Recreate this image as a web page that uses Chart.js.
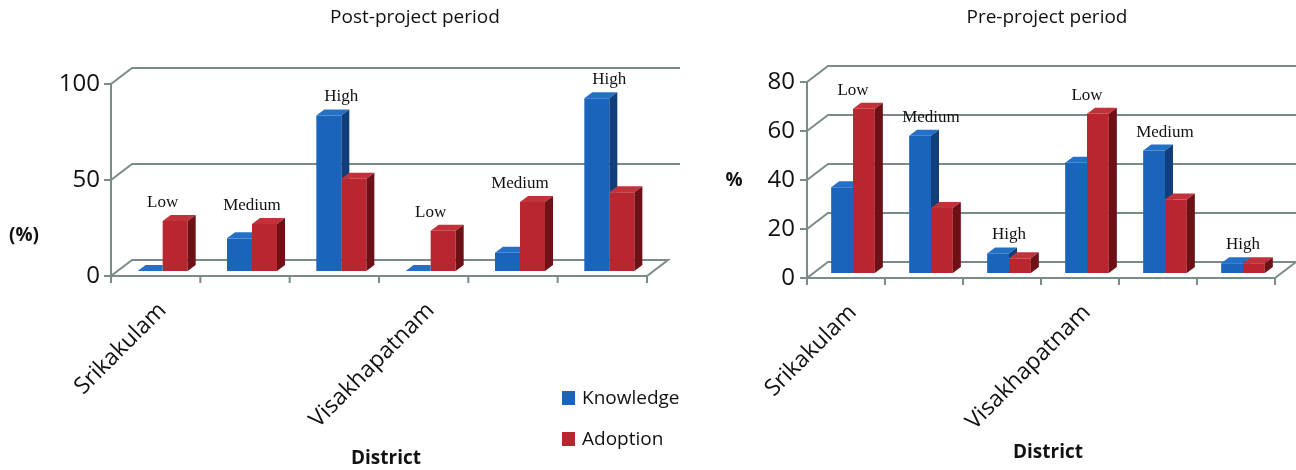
<!DOCTYPE html>
<html>
<head>
<meta charset="utf-8">
<script src="https://cdn.jsdelivr.net/npm/chart.js@4.4.1/dist/chart.umd.min.js"></script>
<style>
  html, body { margin: 0; padding: 0; background: #fff; width: 1296px; height: 470px; overflow: hidden; }
  canvas { position: absolute; top: 0; }
  #post { left: 0; }
  #pre { left: 690px; }
</style>
</head>
<body>
<canvas id="post" width="690" height="470"></canvas>
<canvas id="pre" width="606" height="470"></canvas>
<script>
// ---- data ----
const districts = ['Srikakulam', 'Visakhapatnam'];
const levels = ['Low', 'Medium', 'High'];
const seriesNames = ['Knowledge', 'Adoption'];

// order: Srikakulam Low, Medium, High, Visakhapatnam Low, Medium, High
const postKnowledge = [0, 17, 81, 0, 9.5, 90];
const postAdoption = [26, 24.5, 48, 21, 36, 41];
const preKnowledge = [35, 56, 8, 45, 50, 4];
const preAdoption = [67, 26.5, 6, 65, 30, 4];

const postMax = 100, postStep = 50;
const preMax = 80, preStep = 20;

// ---- styling ----
const BLUE = '#1b64bc', BLUE_TOP = '#2470c6', BLUE_SIDE = '#123f7c';
const RED = '#b8262f', RED_TOP = '#c1323a', RED_SIDE = '#6e1117';
const GRID = '#7b8b8a';
const SANS = '"Open Sans", "Liberation Sans", sans-serif';
const SERIF = '"Liberation Serif", "DejaVu Serif", serif';

// one category per district/level pair; district name only under its first level
const categories = [];
const levelOfCategory = [];
districts.forEach(d => levels.forEach((l, j) => {
  categories.push(j === 0 ? d : '');
  levelOfCategory.push(l);
}));

function faces(ctx, el, top, side, dx, dy) {
  const p = el.getProps(['x', 'y', 'base', 'width'], true);
  const l = p.x - p.width / 2, r = p.x + p.width / 2;
  ctx.fillStyle = top;
  ctx.beginPath();
  ctx.moveTo(l, p.y); ctx.lineTo(l + dx, p.y - dy); ctx.lineTo(r + dx, p.y - dy); ctx.lineTo(r, p.y);
  ctx.closePath(); ctx.fill();
  ctx.fillStyle = side;
  ctx.beginPath();
  ctx.moveTo(r, p.y); ctx.lineTo(r + dx, p.y - dy); ctx.lineTo(r + dx, p.base - dy); ctx.lineTo(r, p.base);
  ctx.closePath(); ctx.fill();
}

// draws the floor / back-wall box, the bar depth faces and the annotations
const depthPlugin = {
  id: 'depth',
  beforeDatasetsDraw(chart, args, o) {
    const { ctx, chartArea: a, scales: { x, y } } = chart;
    const f = o.front, b = o.back;
    ctx.save();
    ctx.strokeStyle = GRID;
    ctx.lineWidth = 2;
    y.ticks.forEach(t => {
      const py = y.getPixelForValue(t.value);
      ctx.beginPath();
      if (t.value === y.min) {
        ctx.moveTo(a.left + f.dx, py + f.dy);
        ctx.lineTo(a.right + f.dx, py + f.dy);
        ctx.lineTo(a.right + b.dx, py + b.dy);
        ctx.lineTo(a.left + b.dx, py + b.dy);
        ctx.closePath();
      } else {
        ctx.moveTo(a.left + f.dx, py + f.dy);
        ctx.lineTo(a.left + b.dx, py + b.dy);
        ctx.lineTo(a.right + b.dx + o.extend, py + b.dy);
      }
      ctx.stroke();
      ctx.beginPath();
      ctx.moveTo(a.left + f.dx - 7, py + f.dy);
      ctx.lineTo(a.left + f.dx, py + f.dy);
      ctx.stroke();
    });
    // front value axis
    ctx.beginPath();
    ctx.moveTo(a.left + f.dx, y.getPixelForValue(y.min) + f.dy + 7);
    ctx.lineTo(a.left + f.dx, y.getPixelForValue(y.max) + f.dy);
    ctx.stroke();
    // category boundary ticks on the front edge
    const y0 = y.getPixelForValue(y.min) + f.dy;
    for (let i = 0; i <= x.ticks.length; i++) {
      const px = x.getPixelForValue(i - 0.5) + f.dx;
      ctx.beginPath();
      ctx.moveTo(px, y0);
      ctx.lineTo(px, y0 + 7);
      ctx.stroke();
    }
    ctx.restore();
  },
  afterDatasetsDraw(chart, args, o) {
    const { ctx } = chart;
    const [mk, ma] = chart.getSortedVisibleDatasetMetas();
    const dx = o.depth.dx, dy = o.depth.dy;
    ctx.save();
    mk.data.forEach((bk, i) => {
      const ba = ma.data[i];
      const pa = ba.getProps(['x', 'y', 'base', 'width'], true);
      // knowledge faces sit behind the adoption front face
      ctx.save();
      ctx.beginPath();
      ctx.rect(0, 0, chart.width, chart.height);
      ctx.rect(pa.x - pa.width / 2, Math.min(pa.y, pa.base), pa.width, Math.abs(pa.base - pa.y));
      ctx.clip('evenodd');
      faces(ctx, bk, BLUE_TOP, BLUE_SIDE, dx, dy);
      ctx.restore();
      faces(ctx, ba, RED_TOP, RED_SIDE, dx, dy);

      // level annotation above each pair
      const pk = bk.getProps(['x', 'y'], true);
      ctx.font = '17px ' + SERIF;
      ctx.fillStyle = '#111';
      ctx.textAlign = 'center';
      ctx.textBaseline = 'alphabetic';
      ctx.fillText(levelOfCategory[i], (pk.x + pa.x) / 2, Math.min(pk.y, pa.y) - dy - 8);
    });
    ctx.restore();
  },
  afterDraw(chart, args, o) {
    const { ctx } = chart;
    ctx.save();
    ctx.fillStyle = '#111';
    ctx.textBaseline = 'middle';
    ctx.textAlign = 'center';
    ctx.font = '19px ' + SANS;
    ctx.fillText(o.title, o.titleX, 18);
    ctx.font = 'bold 19px ' + SANS;
    ctx.fillText(o.unit, o.unitX, o.unitY);
    if (o.legend) {
      ctx.textAlign = 'left';
      ctx.font = '19px ' + SANS;
      chart.data.datasets.forEach((ds, i) => {
        const cy = o.legend.y + i * o.legend.gap;
        ctx.fillStyle = ds.backgroundColor;
        ctx.fillRect(o.legend.x, cy - 7, 13, 14);
        ctx.fillStyle = '#111';
        ctx.fillText(ds.label, o.legend.x + 20, cy + 1);
      });
    }
    ctx.restore();
  }
};

function build(id, knowledge, adoption, max, step, cfg) {
  return new Chart(document.getElementById(id), {
    type: 'bar',
    data: {
      labels: categories,
      datasets: [
        { label: seriesNames[0], data: knowledge, backgroundColor: BLUE },
        { label: seriesNames[1], data: adoption, backgroundColor: RED }
      ]
    },
    options: {
      responsive: false,
      animation: false,
      devicePixelRatio: 1,
      layout: { padding: { top: cfg.top, right: cfg.right, left: 0, bottom: 0 } },
      datasets: { bar: { categoryPercentage: 0.56, barPercentage: 1, borderWidth: 0 } },
      plugins: {
        legend: { display: false },
        tooltip: { enabled: false },
        depth: cfg.depth
      },
      scales: {
        x: {
          grid: { display: false, drawTicks: false },
          border: { display: false },
          ticks: {
            autoSkip: false, minRotation: 45, maxRotation: 45, padding: cfg.xPad,
            font: { family: SANS, size: 23 }, color: '#111'
          },
          title: {
            display: true, text: 'District', color: '#111',
            font: { family: SANS, size: 19, weight: 'bold' },
            padding: { top: 0, bottom: cfg.titleBottom }
          },
          afterFit(s) { s.height = cfg.xH; }
        },
        y: {
          min: 0, max: max,
          ticks: {
            stepSize: step, padding: cfg.yPad, labelOffset: 5,
            font: { family: SANS, size: 24 }, color: '#111'
          },
          grid: { display: false, drawTicks: false },
          border: { display: false },
          afterFit(s) { s.width = cfg.yW; }
        }
      }
    },
    plugins: [depthPlugin]
  });
}

const box = { front: { dx: -7, dy: 5 }, back: { dx: 14, dy: -11 }, depth: { dx: 8, dy: 6 } };

build('post', postKnowledge, postAdoption, postMax, postStep, {
  top: 79, right: 36, xH: 199, yW: 118, yPad: 18, xPad: 26, titleBottom: 0,
  depth: Object.assign({}, box, {
    extend: 12, title: 'Post-project period', titleX: 415,
    unit: '(%)', unitX: 24, unitY: 236,
    legend: { x: 562, y: 398, gap: 41 }
  })
});

build('pre', preKnowledge, preAdoption, preMax, preStep, {
  top: 77, right: 14, xH: 197, yW: 124, yPad: 19, xPad: 26, titleBottom: 6,
  depth: Object.assign({}, box, {
    extend: 0, title: 'Pre-project period', titleX: 357,
    unit: '%', unitX: 44, unitY: 181
  })
});
</script>
</body>
</html>
